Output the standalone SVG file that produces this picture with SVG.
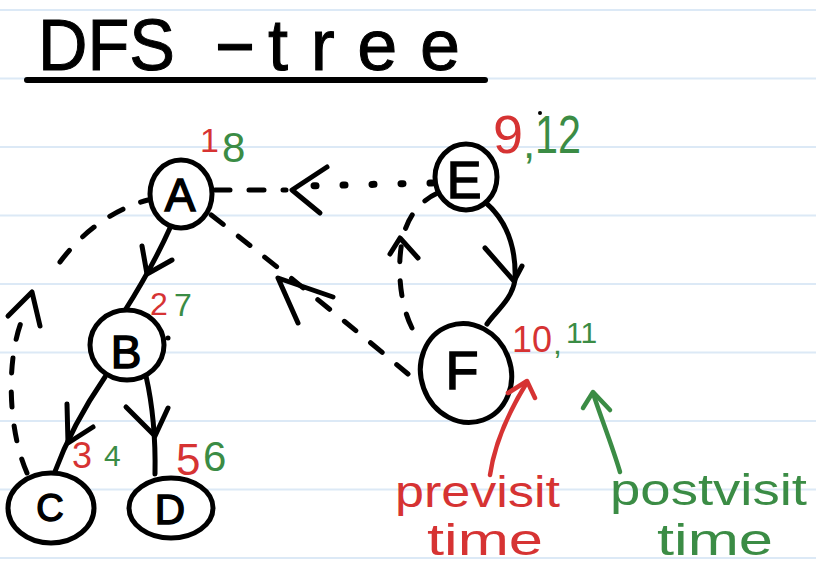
<svg xmlns="http://www.w3.org/2000/svg" width="816" height="568" viewBox="0 0 816 568">
<style>
.rule{stroke:#dce9f6;stroke-width:2}
.ink{fill:none;stroke:#000;stroke-width:5;stroke-linecap:round;stroke-linejoin:round}
.dash{stroke-dasharray:15 19}
.dot{stroke-width:7;stroke-dasharray:2 27}
.node{fill:#fff;stroke:#000;stroke-width:5}
.lbl{font-family:"Liberation Sans","DejaVu Sans",sans-serif;text-anchor:middle;stroke:#000;stroke-width:1.5}
.num{font-family:"Liberation Sans","DejaVu Sans",sans-serif}
.ttl{font-family:"Liberation Sans","DejaVu Sans",sans-serif;stroke:#000;stroke-width:1}
.red{fill:#d63333}
.green{fill:#3b8c45}
.rs{fill:none;stroke:#d63333;stroke-width:4.5;stroke-linecap:round;stroke-linejoin:round}
.gs{fill:none;stroke:#3b8c45;stroke-width:4.5;stroke-linecap:round;stroke-linejoin:round}
</style>
<rect width="816" height="568" fill="#fff"/>
<g id="ruled">
<line class="rule" x1="0" y1="10" x2="816" y2="10"/>
<line class="rule" x1="0" y1="78.5" x2="816" y2="78.5"/>
<line class="rule" x1="0" y1="147" x2="816" y2="147"/>
<line class="rule" x1="0" y1="215.5" x2="816" y2="215.5"/>
<line class="rule" x1="0" y1="284" x2="816" y2="284"/>
<line class="rule" x1="0" y1="352.5" x2="816" y2="352.5"/>
<line class="rule" x1="0" y1="421" x2="816" y2="421"/>
<line class="rule" x1="0" y1="489.5" x2="816" y2="489.5"/>
<line class="rule" x1="0" y1="558" x2="816" y2="558"/>
</g>
<g id="title">
<text class="ttl" x="38" y="70" font-size="72" textLength="137" lengthAdjust="spacingAndGlyphs">DFS</text>
<text class="ttl" x="213" y="66" font-size="72" textLength="44" lengthAdjust="spacingAndGlyphs">-</text>
<text class="ttl" x="268" y="70" font-size="72" textLength="192" lengthAdjust="spacing">tree</text>
<line x1="27" y1="80" x2="485" y2="80" stroke="#000" stroke-width="6" stroke-linecap="round"/>
</g>
<g id="connectors">
<!-- A -> B tree edge -->
<path class="ink" d="M170,228 Q152,268 124,312"/>
<path class="ink" d="M142,246 L147,274 L172,260"/>
<!-- B -> C tree edge -->
<path class="ink" d="M105,377 Q72,425 54,474"/>
<path class="ink" d="M67,404 L68,443 L93,427"/>
<!-- B -> D tree edge -->
<path class="ink" d="M146,376 Q156,420 155,474"/>
<path class="ink" d="M126,407 L155,436 L168,408"/>
<!-- E -> F tree edge -->
<path class="ink" d="M485,202 C512,225 516,255 515,280 C512,300 495,312 487,324"/>
<path class="ink" d="M485,248 L514,281 L522,266"/>
<!-- F -> E back edge (dashed) -->
<path class="ink dash" d="M412,328 C398,300 398,262 402,242 C406,218 420,200 440,192"/>
<path class="ink" d="M390,254 L400,238 L418,258"/>
<!-- E -> A cross edge -->
<path class="ink dot" d="M432,183 L305,186"/>
<path class="ink dash" d="M215,190 L286,190"/>
<path class="ink" d="M327,167 L292,190 L320,213"/>
<!-- F -> A cross edge (dashed) -->
<path class="ink dash" d="M408,374 Q320,300 210,214"/>
<path class="ink" d="M298,323 L278,278 L333,297"/>
<!-- C -> A back edge (dashed) -->
<path class="ink dash" d="M27,473 C8,430 6,360 22,320"/>
<path class="ink dash" d="M60,262 C80,235 110,210 148,200"/>
<path class="ink" d="M8,316 L32,292 L40,326"/>
</g>
<g id="node-A">
<ellipse class="node" cx="181" cy="194" rx="31" ry="34"/>
<text class="lbl" x="180" y="211" font-size="46">A</text>
<text class="num red" x="200" y="152" font-size="34">1</text>
<text class="num green" x="222" y="162" font-size="42">8</text>
</g>
<g id="node-B">
<ellipse class="node" cx="127" cy="345" rx="37" ry="35"/>
<text class="lbl" x="126" y="368" font-size="46">B</text>
<text class="num red" x="150" y="315" font-size="32">2</text>
<text class="num green" x="174" y="316" font-size="32">7</text>
<circle cx="168" cy="338" r="2.5" fill="#000"/>
</g>
<g id="node-C">
<ellipse class="node" cx="51" cy="508" rx="43" ry="35"/>
<text class="lbl" x="50" y="521" font-size="38">C</text>
<text class="num red" x="72" y="468" font-size="36">3</text>
<text class="num green" x="104" y="466" font-size="30">4</text>
</g>
<g id="node-D">
<ellipse class="node" cx="171" cy="508" rx="42" ry="30"/>
<text class="lbl" x="170" y="524" font-size="42">D</text>
<text class="num red" x="176" y="475" font-size="44">5</text>
<text class="num green" x="203" y="471" font-size="42">6</text>
</g>
<g id="node-E">
<ellipse class="node" cx="466" cy="177" rx="31" ry="33"/>
<text class="lbl" x="464" y="198" font-size="52">E</text>
<text class="num red" x="493" y="153" font-size="54">9</text>
<text class="num green" x="523" y="158" font-size="44">,</text>
<text class="num green" x="535" y="153" font-size="54" textLength="46" lengthAdjust="spacingAndGlyphs">12</text>
<circle cx="540" cy="113" r="2" fill="#000"/>
</g>
<g id="node-F">
<ellipse class="node" cx="466" cy="373" rx="45" ry="50" transform="rotate(-20 466 373)"/>
<text class="num red" x="512" y="352" font-size="36">10</text>
<text class="lbl" x="462" y="389" font-size="54">F</text>
<text class="num green" x="553" y="354" font-size="32">,</text>
<text class="num green" x="566" y="343" font-size="30">11</text>
</g>
<g id="annotations">
<path class="rs" d="M490,475 C495,440 510,410 526,384"/>
<path class="rs" d="M508,393 L527,381 L535,398"/>
<text class="num red" x="395" y="507" font-size="44" textLength="165" lengthAdjust="spacingAndGlyphs">previsit</text>
<text class="num red" x="427" y="555" font-size="44" textLength="116" lengthAdjust="spacingAndGlyphs">time</text>
<path class="gs" d="M620,472 C612,445 600,415 593,393"/>
<path class="gs" d="M583,408 L593,392 L610,410"/>
<text class="num green" x="610" y="505" font-size="44" textLength="197" lengthAdjust="spacingAndGlyphs">postvisit</text>
<text class="num green" x="657" y="555" font-size="44" textLength="116" lengthAdjust="spacingAndGlyphs">time</text>
</g>
</svg>
